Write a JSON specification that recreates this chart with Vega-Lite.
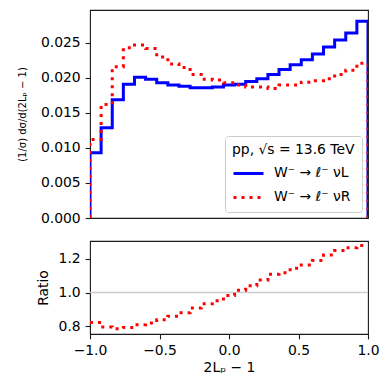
{
  "$schema": "https://vega.github.io/schema/vega-lite/v6.json",
  "padding": {"left": 16, "top": 9, "right": 13, "bottom": 5},
  "spacing": 14,
  "resolve": {"scale": {"color": "independent", "strokeDash": "independent"}, "legend": {"color": "independent", "strokeDash": "independent"}},
  "config": {
    "font": "DejaVu Sans",
    "view": {"stroke": "#1a1a1a", "strokeWidth": 1.1},
    "axis": {"grid": false, "domain": false, "labelFlush": false, "tickColor": "#1a1a1a", "tickSize": 4.9, "tickWidth": 1.1, "labelPadding": 4.9, "labelFontSize": 13.9, "labelColor": "#000000", "titleFontSize": 13.9, "titleFontWeight": "normal", "titleColor": "#000000"}
  },
  "datasets": {
    "hist": [
      {"i": 0, "s": "W⁻ → ℓ⁻ νL", "x": -1, "y": 0},
      {"i": 1, "s": "W⁻ → ℓ⁻ νL", "x": -1, "y": 0.0093},
      {"i": 2, "s": "W⁻ → ℓ⁻ νL", "x": -0.92, "y": 0.0129},
      {"i": 3, "s": "W⁻ → ℓ⁻ νL", "x": -0.84, "y": 0.0169},
      {"i": 4, "s": "W⁻ → ℓ⁻ νL", "x": -0.76, "y": 0.0191},
      {"i": 5, "s": "W⁻ → ℓ⁻ νL", "x": -0.68, "y": 0.0201},
      {"i": 6, "s": "W⁻ → ℓ⁻ νL", "x": -0.6, "y": 0.0198},
      {"i": 7, "s": "W⁻ → ℓ⁻ νL", "x": -0.52, "y": 0.0193},
      {"i": 8, "s": "W⁻ → ℓ⁻ νL", "x": -0.44, "y": 0.0190},
      {"i": 9, "s": "W⁻ → ℓ⁻ νL", "x": -0.36, "y": 0.0188},
      {"i": 10, "s": "W⁻ → ℓ⁻ νL", "x": -0.28, "y": 0.0186},
      {"i": 11, "s": "W⁻ → ℓ⁻ νL", "x": -0.2, "y": 0.0186},
      {"i": 12, "s": "W⁻ → ℓ⁻ νL", "x": -0.12, "y": 0.0187},
      {"i": 13, "s": "W⁻ → ℓ⁻ νL", "x": -0.04, "y": 0.0190},
      {"i": 14, "s": "W⁻ → ℓ⁻ νL", "x": 0.04, "y": 0.0191},
      {"i": 15, "s": "W⁻ → ℓ⁻ νL", "x": 0.12, "y": 0.0195},
      {"i": 16, "s": "W⁻ → ℓ⁻ νL", "x": 0.2, "y": 0.0199},
      {"i": 17, "s": "W⁻ → ℓ⁻ νL", "x": 0.28, "y": 0.0205},
      {"i": 18, "s": "W⁻ → ℓ⁻ νL", "x": 0.36, "y": 0.0212},
      {"i": 19, "s": "W⁻ → ℓ⁻ νL", "x": 0.44, "y": 0.0219},
      {"i": 20, "s": "W⁻ → ℓ⁻ νL", "x": 0.52, "y": 0.0226},
      {"i": 21, "s": "W⁻ → ℓ⁻ νL", "x": 0.6, "y": 0.0234},
      {"i": 22, "s": "W⁻ → ℓ⁻ νL", "x": 0.68, "y": 0.0244},
      {"i": 23, "s": "W⁻ → ℓ⁻ νL", "x": 0.76, "y": 0.0254},
      {"i": 24, "s": "W⁻ → ℓ⁻ νL", "x": 0.84, "y": 0.0264},
      {"i": 25, "s": "W⁻ → ℓ⁻ νL", "x": 0.92, "y": 0.0281},
      {"i": 26, "s": "W⁻ → ℓ⁻ νL", "x": 1, "y": 0.0281},
      {"i": 27, "s": "W⁻ → ℓ⁻ νL", "x": 1, "y": 0},
      {"i": 0, "s": "W⁻ → ℓ⁻ νR", "x": -1, "y": 0},
      {"i": 1, "s": "W⁻ → ℓ⁻ νR", "x": -1, "y": 0.0112},
      {"i": 2, "s": "W⁻ → ℓ⁻ νR", "x": -0.92, "y": 0.0162},
      {"i": 3, "s": "W⁻ → ℓ⁻ νR", "x": -0.84, "y": 0.0216},
      {"i": 4, "s": "W⁻ → ℓ⁻ νR", "x": -0.76, "y": 0.0243},
      {"i": 5, "s": "W⁻ → ℓ⁻ νR", "x": -0.68, "y": 0.0247},
      {"i": 6, "s": "W⁻ → ℓ⁻ νR", "x": -0.6, "y": 0.0242},
      {"i": 7, "s": "W⁻ → ℓ⁻ νR", "x": -0.52, "y": 0.0230},
      {"i": 8, "s": "W⁻ → ℓ⁻ νR", "x": -0.44, "y": 0.0220},
      {"i": 9, "s": "W⁻ → ℓ⁻ νR", "x": -0.36, "y": 0.0215},
      {"i": 10, "s": "W⁻ → ℓ⁻ νR", "x": -0.28, "y": 0.0205},
      {"i": 11, "s": "W⁻ → ℓ⁻ νR", "x": -0.2, "y": 0.0198},
      {"i": 12, "s": "W⁻ → ℓ⁻ νR", "x": -0.12, "y": 0.0197},
      {"i": 13, "s": "W⁻ → ℓ⁻ νR", "x": -0.04, "y": 0.0193},
      {"i": 14, "s": "W⁻ → ℓ⁻ νR", "x": 0.04, "y": 0.0190},
      {"i": 15, "s": "W⁻ → ℓ⁻ νR", "x": 0.12, "y": 0.0187},
      {"i": 16, "s": "W⁻ → ℓ⁻ νR", "x": 0.2, "y": 0.0187},
      {"i": 17, "s": "W⁻ → ℓ⁻ νR", "x": 0.28, "y": 0.0185},
      {"i": 18, "s": "W⁻ → ℓ⁻ νR", "x": 0.36, "y": 0.0190},
      {"i": 19, "s": "W⁻ → ℓ⁻ νR", "x": 0.44, "y": 0.0190},
      {"i": 20, "s": "W⁻ → ℓ⁻ νR", "x": 0.52, "y": 0.0194},
      {"i": 21, "s": "W⁻ → ℓ⁻ νR", "x": 0.6, "y": 0.0196},
      {"i": 22, "s": "W⁻ → ℓ⁻ νR", "x": 0.68, "y": 0.0199},
      {"i": 23, "s": "W⁻ → ℓ⁻ νR", "x": 0.76, "y": 0.0205},
      {"i": 24, "s": "W⁻ → ℓ⁻ νR", "x": 0.84, "y": 0.0211},
      {"i": 25, "s": "W⁻ → ℓ⁻ νR", "x": 0.92, "y": 0.0221},
      {"i": 26, "s": "W⁻ → ℓ⁻ νR", "x": 1, "y": 0.0221},
      {"i": 27, "s": "W⁻ → ℓ⁻ νR", "x": 1, "y": 0}
    ],
    "ratio": [
      {"i": 0, "x": -1, "r": 0.823},
      {"i": 1, "x": -0.92, "r": 0.795},
      {"i": 2, "x": -0.84, "r": 0.785},
      {"i": 3, "x": -0.76, "r": 0.793},
      {"i": 4, "x": -0.68, "r": 0.809},
      {"i": 5, "x": -0.6, "r": 0.819},
      {"i": 6, "x": -0.52, "r": 0.838},
      {"i": 7, "x": -0.44, "r": 0.86},
      {"i": 8, "x": -0.36, "r": 0.88},
      {"i": 9, "x": -0.28, "r": 0.908},
      {"i": 10, "x": -0.2, "r": 0.933},
      {"i": 11, "x": -0.12, "r": 0.951},
      {"i": 12, "x": -0.04, "r": 0.982},
      {"i": 13, "x": 0.04, "r": 1.014},
      {"i": 14, "x": 0.12, "r": 1.04},
      {"i": 15, "x": 0.2, "r": 1.075},
      {"i": 16, "x": 0.28, "r": 1.109},
      {"i": 17, "x": 0.36, "r": 1.118},
      {"i": 18, "x": 0.44, "r": 1.144},
      {"i": 19, "x": 0.52, "r": 1.164},
      {"i": 20, "x": 0.6, "r": 1.19},
      {"i": 21, "x": 0.68, "r": 1.223},
      {"i": 22, "x": 0.76, "r": 1.249},
      {"i": 23, "x": 0.84, "r": 1.266},
      {"i": 24, "x": 0.92, "r": 1.28},
      {"i": 25, "x": 1, "r": 1.28}
    ],
    "ref": [{"r": 1}]
  },
  "vconcat": [
    {
      "width": 278,
      "height": 208,
      "data": {"name": "hist"},
      "mark": {"type": "line", "interpolate": "step-after", "strokeWidth": 3, "clip": true},
      "encoding": {
        "x": {"field": "x", "type": "quantitative", "scale": {"domain": [-1, 1], "nice": false}, "axis": null},
        "y": {"field": "y", "type": "quantitative", "scale": {"domain": [0, 0.0297], "nice": false, "zero": false},
          "axis": {"values": [0, 0.005, 0.01, 0.015, 0.02, 0.025], "format": ".3f", "title": "(1/σ) dσ/d(2Lₚ − 1)", "titleFontSize": 10, "titlePadding": 13}},
        "color": {"field": "s", "type": "nominal",
          "scale": {"domain": ["W⁻ → ℓ⁻ νL", "W⁻ → ℓ⁻ νR"], "range": ["#0000ff", "#ff0000"]},
          "legend": {"title": "pp, √s = 13.6 TeV", "orient": "bottom-right", "offset": 6, "symbolType": "stroke", "symbolSize": 900, "symbolStrokeWidth": 3, "labelFontSize": 13.9, "titleFontSize": 13.9, "titleFontWeight": "normal", "fillColor": "rgba(255,255,255,0.8)", "strokeColor": "#cccccc", "cornerRadius": 3, "padding": 7, "rowPadding": 0, "labelOffset": 9, "titlePadding": 0, "labelColor": "#000000", "titleColor": "#000000", "titleLimit": 300, "labelLimit": 300}},
        "strokeDash": {"field": "s", "type": "nominal",
          "scale": {"domain": ["W⁻ → ℓ⁻ νL", "W⁻ → ℓ⁻ νR"], "range": [[1, 0], [3, 5]]},
          "legend": {"title": "pp, √s = 13.6 TeV"}},
        "order": {"field": "i", "type": "quantitative"}
      }
    },
    {
      "width": 278,
      "height": 93,
      "layer": [
        {
          "data": {"name": "ref"},
          "mark": {"type": "rule", "color": "#cccccc", "strokeWidth": 1.5},
          "encoding": {
            "y": {"field": "r", "type": "quantitative", "scale": {"domain": [0.754, 1.306], "nice": false, "zero": false},
              "axis": {"values": [0.8, 1.0, 1.2], "format": ".1f", "title": "Ratio", "titlePadding": 8}}
          }
        },
        {
          "data": {"name": "ratio"},
          "mark": {"type": "line", "interpolate": "step-after", "color": "#ff0000", "strokeWidth": 3, "strokeDash": [3, 5], "clip": true},
          "encoding": {
            "x": {"field": "x", "type": "quantitative", "scale": {"domain": [-1, 1], "nice": false},
              "axis": {"values": [-1, -0.5, 0, 0.5, 1], "format": ".1f", "title": "2Lₚ − 1", "titlePadding": 3}},
            "y": {"field": "r", "type": "quantitative", "scale": {"domain": [0.754, 1.306], "nice": false, "zero": false},
              "axis": {"values": [0.8, 1.0, 1.2], "format": ".1f", "title": "Ratio", "titlePadding": 8}},
            "order": {"field": "i", "type": "quantitative"}
          }
        }
      ]
    }
  ]
}
